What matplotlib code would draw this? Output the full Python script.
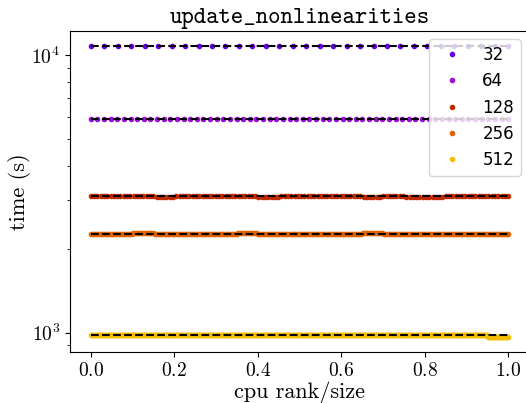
import matplotlib
matplotlib.use("Agg")
import matplotlib.pyplot as plt
import numpy as np

plt.rcParams["font.family"] = "serif"
plt.rcParams["font.serif"] = ["cmr10"]
plt.rcParams["mathtext.fontset"] = "cm"
plt.rcParams["axes.formatter.use_mathtext"] = True

# number of cpus per run
sizes = [32, 64, 128, 256, 512]
colors = ["#6a00e6", "#9a10d6", "#c02a00", "#e06200", "#f5bd00"]

# time (s) in 20 equal bins of rank/size
t32 = [10840, 10840, 10840, 10840, 10840, 10840, 10840, 10840, 10840, 10840,
       10840, 10840, 10840, 10840, 10840, 10840, 10840, 10840, 10840, 10840]
t64 = [5880, 5880, 5880, 5880, 5880, 5880, 5880, 5880, 5880, 5880,
       5880, 5880, 5880, 5880, 5880, 5880, 5880, 5880, 5880, 5880]
t128 = [3100, 3105, 3100, 3097, 3105, 3100, 3108, 3100, 3097, 3100,
        3105, 3100, 3106, 3097, 3100, 3092, 3088, 3100, 3104, 3100]
t256 = [2276, 2276, 2280, 2276, 2276, 2273, 2276, 2280, 2276, 2276,
        2276, 2278, 2276, 2280, 2276, 2276, 2273, 2276, 2276, 2276]
t512 = [981, 982, 981, 983, 981, 981, 982, 981, 981, 980,
        981, 982, 981, 980, 981, 981, 980, 979, 978, 962]
times = [t32, t64, t128, t256, t512]

fig = plt.figure(figsize=(5.26, 4.03), dpi=100)
ax = fig.add_axes([70 / 526, 51 / 403, 459 / 526, 321 / 403])

for n, readings, c in zip(sizes, times, colors):
    x = np.arange(n) / (n - 1)
    readings = np.array(readings, dtype=float)
    idx = np.minimum((x * len(readings)).astype(int), len(readings) - 1)
    t = readings[idx]
    ax.plot(x, t, ".", color=c, markersize=6, label=str(n), zorder=2)
    ax.hlines(t.mean(), 0, 1, colors="k", linestyles="--", linewidth=1.5, zorder=3)

ax.set_yscale("log")
ax.set_xlabel("cpu rank/size", fontsize=16, labelpad=1)
ax.set_ylabel("time (s)", fontsize=16, labelpad=0)
ax.set_title("update_nonlinearities", fontsize=17, family="cmtt10")
ax.tick_params(labelsize=14)
ax.legend(loc="upper right", prop={"family": "DejaVu Sans", "size": 12})

fig.savefig("out.png", dpi=100)
